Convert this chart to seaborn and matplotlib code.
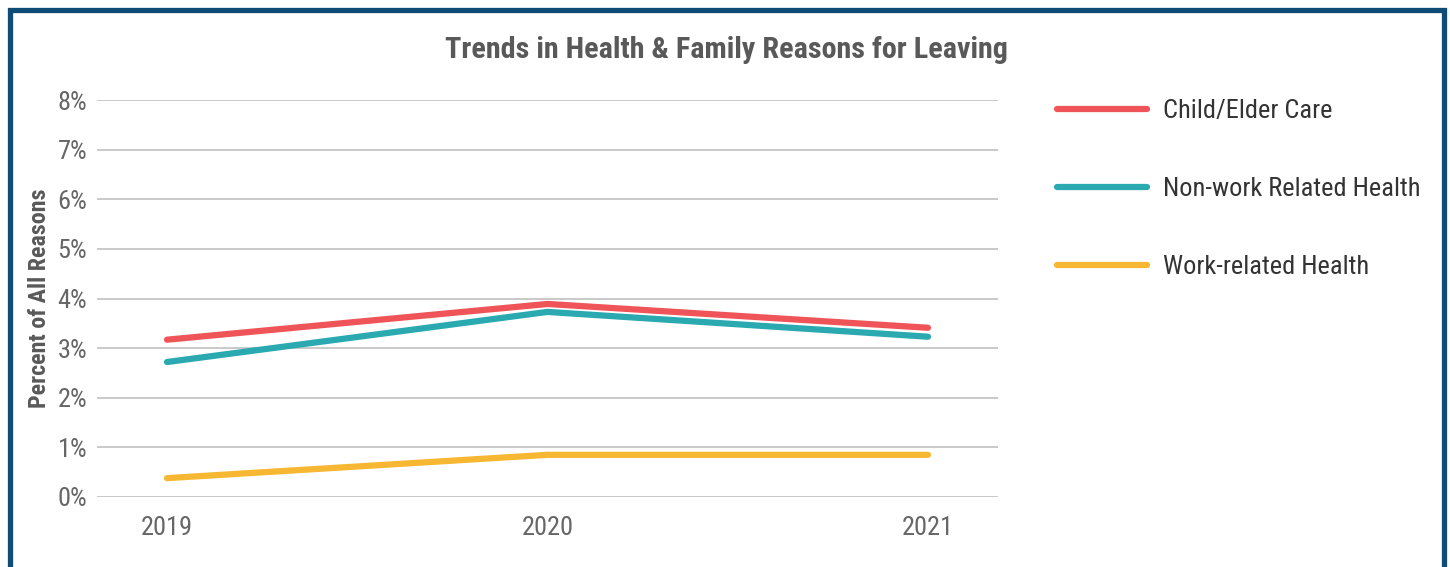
import matplotlib
matplotlib.use("Agg")
import matplotlib.pyplot as plt
import matplotlib.patches as mpatches
import seaborn as sns
import pandas as pd
from matplotlib.ticker import FuncFormatter

years = ["2019", "2020", "2021"]
child_elder_care = [3.17, 3.89, 3.41]
nonwork_health = [2.72, 3.73, 3.23]
work_health = [0.38, 0.85, 0.85]
series_names = ["Child/Elder Care", "Non-work Related Health", "Work-related Health"]
colors = ["#EF5458", "#2AA9B0", "#F7B733"]

rows = []
for name, vals in zip(series_names, [child_elder_care, nonwork_health, work_health]):
    for i, (y, v) in enumerate(zip(years, vals)):
        rows.append({"pos": i, "year": y, "value": v, "series": name})
df = pd.DataFrame(rows)

sns.set_theme(style="white")
fams = ["Roboto Condensed", "Liberation Sans Narrow", "Roboto", "DejaVu Sans"]
plt.rcParams["font.family"] = fams

fig = plt.figure(figsize=(14.5, 5.67), dpi=100)
ax = fig.add_axes([97/1450, 1-497/567, (998-97)/1450, (497-100)/567])

sns.lineplot(data=df, x="pos", y="value", hue="series", palette=colors,
             hue_order=series_names, linewidth=4.5, ax=ax, legend=False,
             solid_capstyle="round", solid_joinstyle="round", clip_on=False)

ax.set_xlim(-0.184, 2.184)
ax.set_ylim(0, 8)
ax.set_yticks(range(0, 9))
ax.yaxis.set_major_formatter(FuncFormatter(lambda v, p: f"{int(v)}%"))
ax.set_xticks(range(len(years)))
ax.set_xticklabels(years)
ax.grid(axis="y", color="#c0c0c0", linewidth=1.2)
ax.grid(axis="x", visible=False)
ax.set_axisbelow(True)
for s in ax.spines.values():
    s.set_visible(False)
ax.tick_params(axis="both", length=0, labelsize=19, colors="#666666")
ax.tick_params(axis="y", pad=7)
ax.tick_params(axis="x", pad=14)
ax.set_xlabel("")
ax.set_ylabel("Percent of All Reasons", fontsize=17.3, fontweight="bold",
              color="#595959", labelpad=5)

fig.text(0.501, 1-50/567, "Trends in Health & Family Reasons for Leaving",
         ha="center", va="center", fontsize=21.7, fontweight="bold", color="#595959")

handles = [plt.Line2D([0], [0], color=c, lw=4.5, solid_capstyle="round") for c in colors]
leg = fig.legend(handles, series_names, loc="upper left",
                 bbox_to_anchor=(1057/1450, 1-99/567), frameon=False,
                 fontsize=19, labelspacing=2.05, handlelength=3.4,
                 handletextpad=0.6, borderaxespad=0, borderpad=0)
for t in leg.get_texts():
    t.set_color("#333333")

border = mpatches.Rectangle((9.5/1450, -0.2), (1443.5-9.5)/1450, 1.2 - 9.5/567,
                            transform=fig.transFigure, fill=False,
                            edgecolor="#0F4C75", linewidth=3.8)
fig.patches.append(border)

fig.savefig("out.png", dpi=100)
